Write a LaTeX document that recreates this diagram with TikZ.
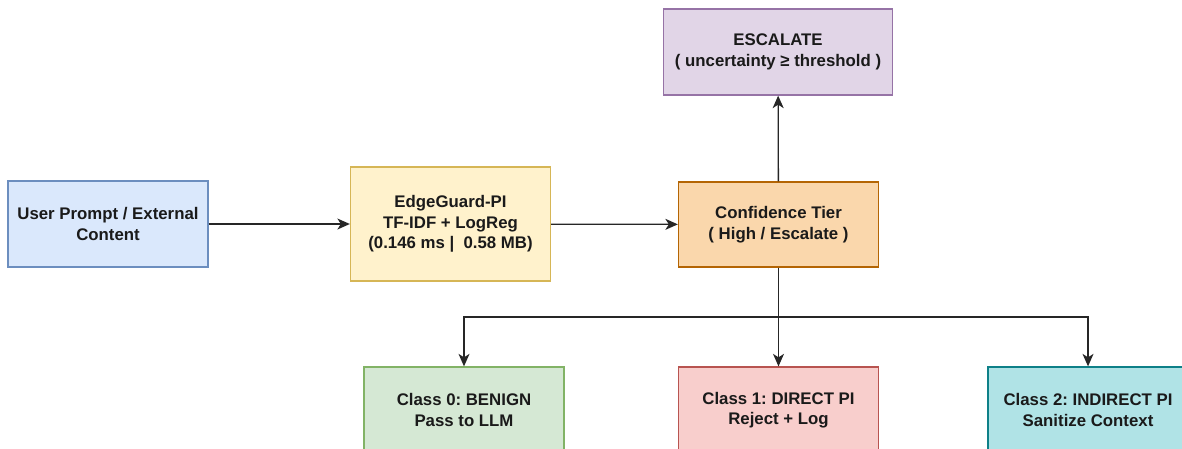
\documentclass[tikz,border=0pt]{standalone}
\usepackage{fontspec}
\setmainfont{Liberation Sans}
\usetikzlibrary{arrows.meta}
\frenchspacing
\definecolor{inkcol}{HTML}{1A1A1A}
\definecolor{linecol}{HTML}{262626}
\definecolor{userfill}{HTML}{DAE8FC}\definecolor{userdraw}{HTML}{6C8EBF}
\definecolor{guardfill}{HTML}{FFF2CC}\definecolor{guarddraw}{HTML}{D6B656}
\definecolor{tierfill}{HTML}{FAD7AC}\definecolor{tierdraw}{HTML}{B46504}
\definecolor{escfill}{HTML}{E1D5E7}\definecolor{escdraw}{HTML}{9673A6}
\definecolor{benignfill}{HTML}{D5E8D4}\definecolor{benigndraw}{HTML}{82B366}
\definecolor{directfill}{HTML}{F8CECC}\definecolor{directdraw}{HTML}{B85450}
\definecolor{indirectfill}{HTML}{B0E3E6}\definecolor{indirectdraw}{HTML}{0E8088}
\tikzset{
  box/.style={draw, line width=1.3pt, minimum width=200pt, minimum height=86pt,
    align=center, text=inkcol, font=\fontsize{16.8}{20.5}\selectfont\bfseries},
  arr/.style={draw=linecol, line width=1.3pt, -{Stealth[length=12.5pt,width=11pt,inset=3.5pt]}}
}
\begin{document}
\begin{tikzpicture}[x=1pt,y=-1pt]
  \clip (0,0) rectangle (1182,448);
  \fill[white] (0,0) rectangle (1182,448);
  \node[box, fill=userfill, draw=userdraw] (user) at (108,224) {User Prompt / External\\Content};
  \node[box, fill=guardfill, draw=guarddraw, minimum height=114pt] (guard) at (450.5,224) {EdgeGuard-PI\\TF-IDF + LogReg\\(0.146 ms |\ \ 0.58 MB)};
  \node[box, fill=tierfill, draw=tierdraw, minimum height=85pt] (tier) at (778.5,224.5) {Confidence Tier\\( High / Escalate )};
  \node[box, fill=escfill, draw=escdraw, minimum width=229pt] (esc) at (778,52) {ESCALATE\\( uncertainty ≥ threshold )};
  \node[box, fill=benignfill, draw=benigndraw] (benign) at (464,410) {Class 0: BENIGN\\Pass to LLM};
  \node[box, fill=directfill, draw=directdraw] (direct) at (778.5,410) {Class 1: DIRECT PI\\Reject + Log};
  \node[box, fill=indirectfill, draw=indirectdraw] (indirect) at (1088,410) {Class 2: INDIRECT PI\\Sanitize Context};
  \coordinate (split) at (778.5,317);

  \draw[arr] (user) -- (guard);
  \draw[arr] (guard) -- (tier);
  \draw[arr] (tier) -- (esc);
  \draw[draw=linecol, line width=1.3pt] (tier) -- (split);
  \draw[arr] (split) -| (benign.north);
  \draw[arr] (split) -- (direct);
  \draw[arr] (split) -| (indirect.north);
\end{tikzpicture}
\end{document}
